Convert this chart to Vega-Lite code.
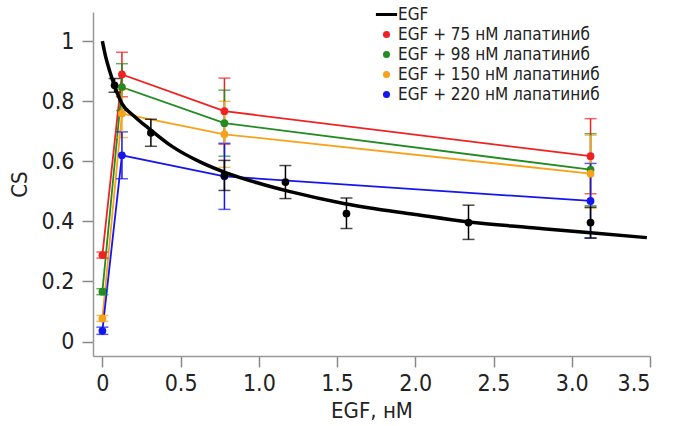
{
  "$schema": "https://vega.github.io/schema/vega-lite/v6.json",
  "autosize": {"type": "none"},
  "padding": {"left": 93, "top": 12, "right": 38, "bottom": 70},
  "width": 557,
  "height": 344,
  "background": "white",
  "config": {
    "font": "DejaVu Sans Condensed",
    "view": {"stroke": null},
    "axis": {
      "grid": false,
      "domainColor": "#999999",
      "domainWidth": 1.5,
      "tickColor": "#888888",
      "tickWidth": 1.5,
      "tickSize": 11,
      "labelColor": "#222222",
      "labelFontSize": 23,
      "labelFont": "DejaVu Sans Condensed",
      "titleFont": "DejaVu Sans Condensed",
      "titleFontSize": 22,
      "titleFontWeight": "normal",
      "titleColor": "#222222"
    }
  },
  "datasets": {
    "curve": [
      {"series": "EGF", "x": 0, "y": 1.0},
      {"series": "EGF", "x": 0.02, "y": 0.95},
      {"series": "EGF", "x": 0.05, "y": 0.895},
      {"series": "EGF", "x": 0.08, "y": 0.848},
      {"series": "EGF", "x": 0.125, "y": 0.792},
      {"series": "EGF", "x": 0.2, "y": 0.752},
      {"series": "EGF", "x": 0.3, "y": 0.708},
      {"series": "EGF", "x": 0.45, "y": 0.648},
      {"series": "EGF", "x": 0.624, "y": 0.598},
      {"series": "EGF", "x": 0.8, "y": 0.56},
      {"series": "EGF", "x": 1.0, "y": 0.527},
      {"series": "EGF", "x": 1.2, "y": 0.499},
      {"series": "EGF", "x": 1.55, "y": 0.459},
      {"series": "EGF", "x": 2.0, "y": 0.423},
      {"series": "EGF", "x": 2.34, "y": 0.398},
      {"series": "EGF", "x": 2.75, "y": 0.379},
      {"series": "EGF", "x": 3.12, "y": 0.362},
      {"series": "EGF", "x": 3.48, "y": 0.346}
    ],
    "egf": [
      {"series": "EGF", "x": 0.078, "y": 0.853, "lo": 0.83, "hi": 0.876},
      {"series": "EGF", "x": 0.31, "y": 0.695, "lo": 0.65, "hi": 0.74},
      {"series": "EGF", "x": 0.78, "y": 0.553, "lo": 0.503, "hi": 0.603},
      {"series": "EGF", "x": 1.17, "y": 0.531, "lo": 0.476, "hi": 0.586},
      {"series": "EGF", "x": 1.56, "y": 0.426, "lo": 0.376, "hi": 0.478},
      {"series": "EGF", "x": 2.34, "y": 0.396, "lo": 0.34, "hi": 0.454},
      {"series": "EGF", "x": 3.12, "y": 0.396, "lo": 0.345, "hi": 0.447}
    ],
    "lap": [
      {"series": "EGF + 75 нМ лапатиниб", "x": 0, "y": 0.288, "lo": 0.278, "hi": 0.298},
      {"series": "EGF + 75 нМ лапатиниб", "x": 0.125, "y": 0.889, "lo": 0.815, "hi": 0.963},
      {"series": "EGF + 75 нМ лапатиниб", "x": 0.78, "y": 0.767, "lo": 0.657, "hi": 0.877},
      {"series": "EGF + 75 нМ лапатиниб", "x": 3.12, "y": 0.617, "lo": 0.492, "hi": 0.742},
      {"series": "EGF + 98 нМ лапатиниб", "x": 0, "y": 0.166, "lo": 0.156, "hi": 0.176},
      {"series": "EGF + 98 нМ лапатиниб", "x": 0.125, "y": 0.847, "lo": 0.769, "hi": 0.925},
      {"series": "EGF + 98 нМ лапатиниб", "x": 0.78, "y": 0.727, "lo": 0.617, "hi": 0.837},
      {"series": "EGF + 98 нМ лапатиниб", "x": 3.12, "y": 0.572, "lo": 0.452, "hi": 0.692},
      {"series": "EGF + 150 нМ лапатиниб", "x": 0, "y": 0.077, "lo": 0.067, "hi": 0.087},
      {"series": "EGF + 150 нМ лапатиниб", "x": 0.125, "y": 0.759, "lo": 0.679, "hi": 0.839},
      {"series": "EGF + 150 нМ лапатиниб", "x": 0.78, "y": 0.69, "lo": 0.58, "hi": 0.8},
      {"series": "EGF + 150 нМ лапатиниб", "x": 3.12, "y": 0.559, "lo": 0.444, "hi": 0.687},
      {"series": "EGF + 220 нМ лапатиниб", "x": 0, "y": 0.036, "lo": 0.024, "hi": 0.048},
      {"series": "EGF + 220 нМ лапатиниб", "x": 0.125, "y": 0.62, "lo": 0.542, "hi": 0.698},
      {"series": "EGF + 220 нМ лапатиниб", "x": 0.78, "y": 0.55, "lo": 0.44, "hi": 0.66},
      {"series": "EGF + 220 нМ лапатиниб", "x": 3.12, "y": 0.468, "lo": 0.344, "hi": 0.593}
    ]
  },
  "encoding": {
    "x": {
      "field": "x", "type": "quantitative",
      "scale": {"domain": [-0.06, 3.5], "nice": false, "zero": false},
      "axis": {
        "title": "EGF, нМ",
        "values": [0, 0.5, 1, 1.5, 2, 2.5, 3, 3.5],
        "labelExpr": "datum.value == 0 ? '0' : format(datum.value, '.1f')",
        "labelPadding": 5,
        "titlePadding": 5
      }
    },
    "y": {
      "field": "y", "type": "quantitative",
      "scale": {"domain": [-0.048, 1.097], "nice": false, "zero": false},
      "axis": {
        "title": "CS",
        "values": [0, 0.2, 0.4, 0.6, 0.8, 1],
        "labelExpr": "datum.value == 0 ? '0' : (datum.value == 1 ? '1' : format(datum.value, '.1f'))",
        "labelPadding": 8,
        "titlePadding": 10
      }
    },
    "color": {
      "field": "series", "type": "nominal",
      "scale": {
        "domain": ["EGF", "EGF + 75 нМ лапатиниб", "EGF + 98 нМ лапатиниб", "EGF + 150 нМ лапатиниб", "EGF + 220 нМ лапатиниб"],
        "range": ["#000000", "#ee2222", "#228b22", "#f7a21b", "#1515ee"]
      },
      "legend": {
        "title": null,
        "orient": "none",
        "legendX": 285,
        "legendY": -6,
        "padding": 0,
        "labelFont": "DejaVu Sans Condensed",
        "labelFontSize": 17,
        "labelColor": "#222222",
        "labelLimit": 0,
        "rowPadding": 2,
        "symbolSize": 400,
        "labelOffset": 3,
        "encode": {
          "symbols": {
            "update": {
              "shape": {"signal": "datum.value === 'EGF' ? 'stroke' : 'circle'"},
              "size": {"signal": "datum.value === 'EGF' ? 450 : 50"},
              "fill": {"signal": "datum.value === 'EGF' ? 'transparent' : scale('color', datum.value)"},
              "stroke": {"signal": "scale('color', datum.value)"},
              "strokeWidth": {"signal": "datum.value === 'EGF' ? 3 : 0"},
              "opacity": {"value": 1}
            }
          }
        }
      }
    }
  },
  "layer": [
    {
      "data": {"name": "lap"},
      "mark": {"type": "line", "strokeWidth": 1.8},
      "encoding": {"detail": {"field": "series"}}
    },
    {
      "data": {"name": "lap"},
      "mark": {"type": "errorbar", "ticks": true, "size": 12, "thickness": 1.5},
      "encoding": {"y": {"field": "lo", "type": "quantitative"}, "y2": {"field": "hi"}}
    },
    {
      "data": {"name": "lap"},
      "mark": {"type": "point", "filled": true, "size": 60, "opacity": 1, "shape": "circle"}
    },
    {
      "data": {"name": "curve"},
      "mark": {"type": "line", "strokeWidth": 3.5, "interpolate": "monotone"}
    },
    {
      "data": {"name": "egf"},
      "mark": {"type": "errorbar", "ticks": true, "size": 12, "thickness": 1.5},
      "encoding": {"y": {"field": "lo", "type": "quantitative"}, "y2": {"field": "hi"}}
    },
    {
      "data": {"name": "egf"},
      "mark": {"type": "point", "filled": true, "size": 60, "opacity": 1, "shape": "circle"}
    }
  ]
}
